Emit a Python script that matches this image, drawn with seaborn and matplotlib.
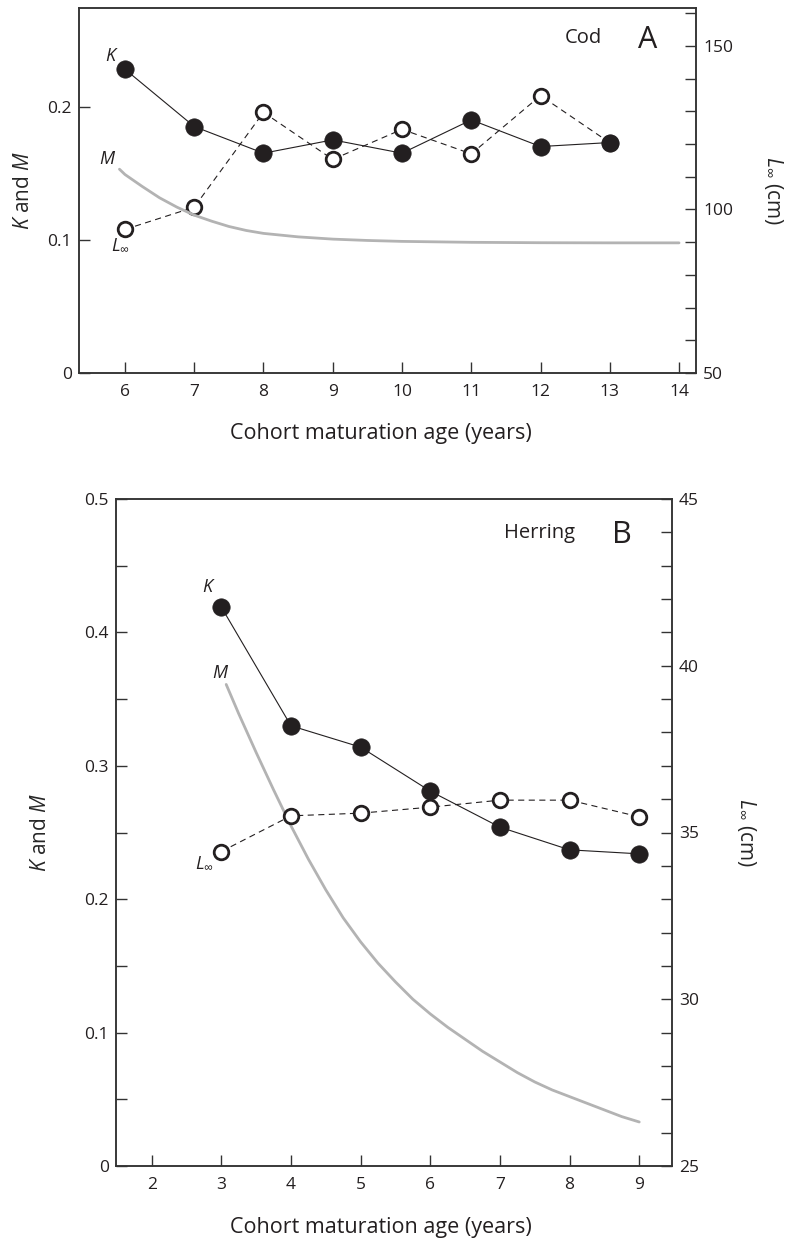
import matplotlib
matplotlib.use("Agg")
import matplotlib.pyplot as plt
from matplotlib.ticker import MultipleLocator
import seaborn as sns

# Panel A - cod
cod_age = [6, 7, 8, 9, 10, 11, 12, 13]
cod_k = [0.228, 0.185, 0.165, 0.175, 0.165, 0.190, 0.170, 0.173]
cod_linf = [93.9, 100.7, 129.7, 115.3, 124.5, 117.0, 134.8, 120.4]
cod_m_age = [5.92, 6.0, 6.25, 6.5, 6.75, 7.0, 7.25, 7.5, 7.75, 8.0, 8.5, 9.0,
             9.5, 10, 11, 12, 13, 14]
cod_m = [0.153, 0.149, 0.140, 0.1315, 0.1245, 0.1185, 0.114, 0.110, 0.107,
         0.1048, 0.1022, 0.1005, 0.0995, 0.0988, 0.0981, 0.0978, 0.0977, 0.0977]

# Panel B - herring
her_age = [3, 4, 5, 6, 7, 8, 9]
her_k = [0.419, 0.330, 0.314, 0.281, 0.254, 0.237, 0.234]
her_linf = [34.43, 35.5, 35.58, 35.76, 35.97, 35.97, 35.47]
her_m_age = [3.07, 3.25, 3.5, 3.75, 4.0, 4.25, 4.5, 4.75, 5.0, 5.25, 5.5, 5.75,
             6.0, 6.25, 6.5, 6.75, 7.0, 7.25, 7.5, 7.75, 8.0, 8.25, 8.5, 8.75, 9.0]
her_m = [0.361, 0.339, 0.310, 0.282, 0.255, 0.230, 0.207, 0.186, 0.168, 0.152,
         0.138, 0.125, 0.114, 0.104, 0.095, 0.086, 0.078, 0.070, 0.063, 0.057,
         0.052, 0.047, 0.042, 0.037, 0.033]

INK = "#231f20"
GREY = "#b3b3b3"

sns.set_theme(style="ticks")
plt.rcParams['font.family'] = ['Open Sans', 'DejaVu Sans']
plt.rcParams['mathtext.fontset'] = 'custom'
plt.rcParams['mathtext.it'] = 'Open Sans:italic'
plt.rcParams['mathtext.rm'] = 'Open Sans'
plt.rcParams['text.color'] = INK
plt.rcParams['axes.edgecolor'] = '#333333'
plt.rcParams['axes.linewidth'] = 1.1

fig = plt.figure(figsize=(7.91, 12.42), dpi=100)
W, H = 791, 1242


def add_axes(left, top, right, bottom):
    return fig.add_axes([left / W, 1 - bottom / H, (right - left) / W, (bottom - top) / H])


def draw_panel(ax, age, k, linf, m_age, m, k_on_top):
    ax2 = ax.twinx()
    sns.lineplot(x=m_age, y=m, ax=ax, color=GREY, linewidth=2.0, sort=False)
    sns.lineplot(x=age, y=linf, ax=ax2, color=INK, linewidth=0.8, linestyle=(0, (5.5, 4)),
                 marker='o', markersize=10.5, markerfacecolor='white',
                 markeredgecolor=INK, markeredgewidth=2.0)
    sns.lineplot(x=age, y=k, ax=ax, color=INK, linewidth=0.8, marker='o',
                 markersize=12.5, markerfacecolor=INK, markeredgecolor=INK,
                 markeredgewidth=0.5)
    if k_on_top:
        ax.set_zorder(ax2.get_zorder() + 1)
        ax.patch.set_visible(False)
    for a in (ax, ax2):
        a.tick_params(which='both', direction='in', length=8, width=1.0,
                      colors='#333333', labelcolor=INK, labelsize=12.5)
        a.tick_params(axis='y', pad=5)
        a.tick_params(axis='x', pad=8)
    ax.tick_params(top=False, right=False)
    ax2.tick_params(left=False, right=True)
    return ax2


# ---- panel A ----
axA = add_axes(79, 8, 696, 373)
axA2 = draw_panel(axA, cod_age, cod_k, cod_linf, cod_m_age, cod_m, True)
axA.set_xlim(5.336, 14.245)
axA.set_xticks(range(6, 15))
axA.set_ylim(0, 0.274)
axA.set_yticks([0, 0.1, 0.2], labels=['0', '0.1', '0.2'])
axA2.set_ylim(50, 161.6)
axA2.set_yticks([50, 100, 150])
axA2.yaxis.set_minor_locator(MultipleLocator(10))
axA.set_ylabel('$K$ and $M$', fontsize=15, labelpad=10)
axA2.set_ylabel('$L_\\infty$ (cm)', fontsize=15, rotation=270, labelpad=37)
axA.text(0.818, 0.918, 'Cod', transform=axA.transAxes, fontsize=14.5,
         ha='center', va='center')
axA.text(0.921, 0.913, 'A', transform=axA.transAxes, fontsize=22,
         ha='center', va='center')
axA.text(5.81, 0.238, '$K$', fontsize=13, ha='center', va='center')
axA.text(5.75, 0.1605, '$M$', fontsize=13, ha='center', va='center')
axA.text(5.94, 0.0968, '$L_\\infty$', fontsize=13, ha='center', va='center')
fig.text(381 / W, 1 - 434 / H, 'Cohort maturation age (years)', fontsize=15.5,
         ha='center', va='center')

# ---- panel B ----
axB = add_axes(116, 499, 672, 1166)
axB2 = draw_panel(axB, her_age, her_k, her_linf, her_m_age, her_m, False)
axB.set_xlim(1.488, 9.47)
axB.set_xticks(range(2, 10))
axB.set_ylim(0, 0.5)
axB.set_yticks([0, 0.1, 0.2, 0.3, 0.4, 0.5],
               labels=['0', '0.1', '0.2', '0.3', '0.4', '0.5'])
axB.yaxis.set_minor_locator(MultipleLocator(0.05))
axB2.set_ylim(25, 45)
axB2.set_yticks([25, 30, 35, 40, 45])
axB2.yaxis.set_minor_locator(MultipleLocator(1))
axB.set_ylabel('$K$ and $M$', fontsize=15, labelpad=24)
axB2.set_ylabel('$L_\\infty$ (cm)', fontsize=15, rotation=270, labelpad=42)
axB.text(0.761, 0.949, 'Herring', transform=axB.transAxes, fontsize=14.5,
         ha='center', va='center')
axB.text(0.910, 0.946, 'B', transform=axB.transAxes, fontsize=22,
         ha='center', va='center')
axB.text(2.82, 0.434, '$K$', fontsize=13, ha='center', va='center')
axB.text(2.99, 0.3696, '$M$', fontsize=13, ha='center', va='center')
axB.text(2.76, 0.228, '$L_\\infty$', fontsize=13, ha='center', va='center')
fig.text(381 / W, 1 - 1228 / H, 'Cohort maturation age (years)', fontsize=15.5,
         ha='center', va='center')

fig.savefig('out.png', dpi=100, facecolor='white')
